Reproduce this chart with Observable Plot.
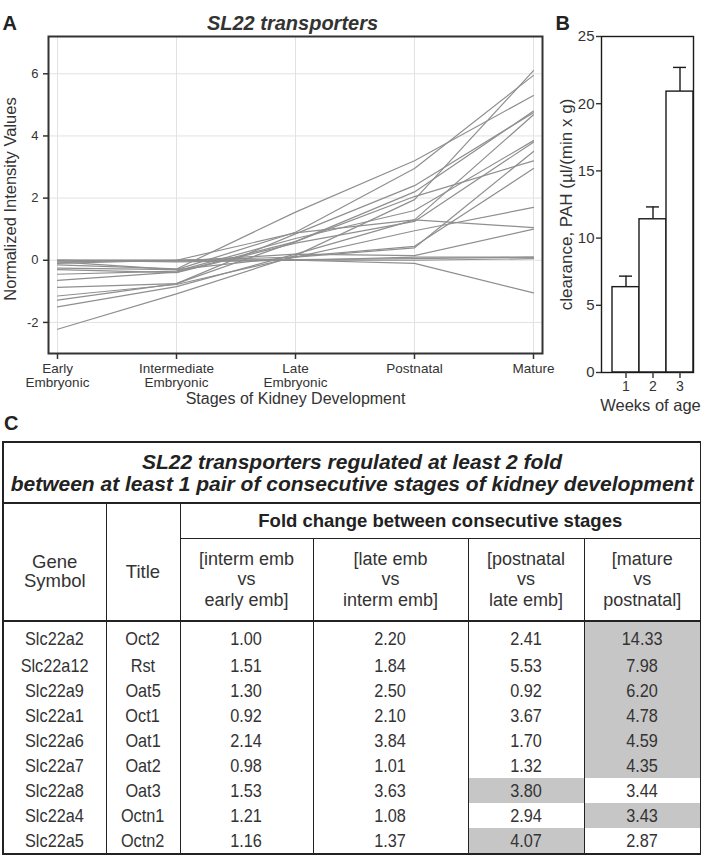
<!DOCTYPE html>
<html><head><meta charset="utf-8">
<script src="https://cdn.jsdelivr.net/npm/d3@7"></script>
<script src="https://cdn.jsdelivr.net/npm/@observablehq/plot@0.6"></script>
<style>
body{margin:0;background:#fff;}
#root{position:relative;width:701px;height:863px;overflow:hidden;background:#fff;font-family:"Liberation Sans",Arial,Helvetica,sans-serif;}
#a{position:absolute;left:0;top:0;}
#b{position:absolute;left:545px;top:0;}
#cLetter{position:absolute;left:4px;top:412px;font-size:20px;font-weight:bold;color:#222;}
table{position:absolute;left:2px;top:441px;width:698px;border-collapse:collapse;table-layout:fixed;border:2px solid #222;color:#333;}
td{padding:0;text-align:center;vertical-align:middle;border-left:1.5px solid #222;border-right:1.5px solid #222;white-space:nowrap;}
td.ttl{font-size:21px;font-weight:bold;font-style:italic;line-height:22px;color:#222;border-bottom:2px solid #222;height:59px;}
td.fc{font-size:18.5px;font-weight:bold;color:#222;border-bottom:1.5px solid #222;height:34px;}
td.hd{font-size:18.5px;line-height:19px;border-bottom:2.5px solid #222;padding-top:18px;}
td.sub{font-size:18px;line-height:20.5px;border-bottom:2.5px solid #222;height:81px;}
td.dat{font-size:18.5px;height:25px;line-height:20px;}
td.dat span{display:inline-block;transform:scaleX(0.88);}
tr.first td.dat{height:28px;padding-top:3px;}
td.hi{background:#c6c6c6;}
</style></head><body>
<div id="root"><div id="a"></div><div id="b"></div><div id="cLetter">C</div><div id="c"></div></div>
<script>
const FONT = '"Liberation Sans", Arial, Helvetica, sans-serif';

// ---------- Panel A data ----------
const stages = ["Early", "Intermediate", "Late", "Postnatal", "Mature"];
const stageLabels = ["Early\nEmbryonic", "Intermediate\nEmbryonic", "Late\nEmbryonic", "Postnatal", "Mature"];
const yTicksA = [-2, 0, 2, 4, 6];
const gene01 = [-2.22, -1.08, 0.15, 1.95, 6.1];
const gene02 = [-0.05, -0.3, 0.9, 2.95, 5.95];
const gene03 = [-0.15, -0.28, 1.55, 3.2, 5.3];
const gene04 = [-1.28, -0.75, 0.6, 2.2, 4.8];
const gene05 = [-0.87, -0.75, 0.85, 2.4, 4.75];
const gene06 = [-1.5, -0.85, 0.2, 1.3, 4.68];
const gene07 = [-0.45, -0.35, 0.7, 1.6, 3.85];
const gene08 = [-0.3, -0.4, 0.55, 1.25, 3.8];
const gene09 = [-1.15, -0.78, 0.1, 0.4, 3.5];
const gene10 = [-0.65, -0.38, 0.6, 2.05, 3.2];
const gene11 = [-0.25, -0.3, 0.12, 0.45, 2.95];
const gene12 = [0, 0, 0.1, 0.95, 1.7];
const gene13 = [-0.05, 0, 0.88, 1.3, 1.05];
const gene14 = [0, -0.03, 0.2, 0.15, 1.0];
const gene15 = [0, 0, 0, 0.1, 0.1];
const gene16 = [0, 0, 0.02, 0.05, 0.1];
const gene17 = [0, -0.05, 0, -0.1, -1.05];
const gene18 = [-0.1, 0, 0, 0, 0.05];
const profiles = [gene01, gene02, gene03, gene04, gene05, gene06, gene07, gene08, gene09,
  gene10, gene11, gene12, gene13, gene14, gene15, gene16, gene17, gene18];

// ---------- Panel B data ----------
const weeks = [1, 2, 3];
const clearance = [6.35, 11.4, 20.9];
const clearanceErr = [0.82, 0.92, 1.8];
const yTicksB = [0, 5, 10, 15, 20, 25];

// ---------- Panel C data ----------
const geneSymbols = ["Slc22a2", "Slc22a12", "Slc22a9", "Slc22a1", "Slc22a6", "Slc22a7", "Slc22a8", "Slc22a4", "Slc22a5"];
const geneTitles = ["Oct2", "Rst", "Oat5", "Oct1", "Oat1", "Oat2", "Oat3", "Octn1", "Octn2"];
const foldIntermVsEarly = ["1.00", "1.51", "1.30", "0.92", "2.14", "0.98", "1.53", "1.21", "1.16"];
const foldLateVsInterm = ["2.20", "1.84", "2.50", "2.10", "3.84", "1.01", "3.63", "1.08", "1.37"];
const foldPostVsLate = ["2.41", "5.53", "0.92", "3.67", "1.70", "1.32", "3.80", "2.94", "4.07"];
const foldMatureVsPost = ["14.33", "7.98", "6.20", "4.78", "4.59", "4.35", "3.44", "3.43", "2.87"];
const comparisonHeaders = ["[interm emb\nvs\nearly emb]", "[late emb\nvs\ninterm emb]", "[postnatal\nvs\nlate emb]", "[mature\nvs\npostnatal]"];
const tableTitle = "SL22 transporters regulated at least 2 fold\nbetween at least 1 pair of consecutive stages of kidney development";

// ---------- Panel A ----------
const dataA = profiles.flatMap((p, i) => p.map((v, j) => ({gene: i, stage: stages[j], value: v})));
const chartA = Plot.plot({
  width: 550, height: 420,
  marginLeft: 48, marginRight: 8, marginTop: 36, marginBottom: 67,
  style: {fontFamily: FONT, fontSize: "13px", color: "#333", background: "transparent", overflow: "visible"},
  x: {type: "point", domain: stages, range: [57, 533], padding: 0},
  y: {domain: [-3, 7.2]},
  marks: [
    Plot.gridX(stages, {stroke: "#e2e2e2", strokeOpacity: 1}),
    Plot.gridY(yTicksA, {stroke: "#e2e2e2", strokeOpacity: 1}),
    Plot.lineY(dataA, {x: "stage", y: "value", z: "gene", stroke: "#8f8f8f", strokeWidth: 1.2}),
    Plot.frame({stroke: "#333", strokeWidth: 2}),
    Plot.axisY(yTicksA, {tickSize: 5, tickPadding: 5, tickFormat: d => String(d), label: null, strokeWidth: 1.5, fontSize: 13}),
    Plot.axisX(stages, {tickSize: 6, tickPadding: 3, tickFormat: d => stageLabels[stages.indexOf(d)], label: null, lineHeight: 1.08, strokeWidth: 1.5, fontSize: 13.5}),
    Plot.text(["A"], {text: d => d, frameAnchor: "top-left", dx: -46, dy: -21, fontSize: 20, fontWeight: "bold", textAnchor: "start", fill: "#222"}),
    Plot.text(["SL22 transporters"], {text: d => d, frameAnchor: "top", dx: -3, dy: -21, fontSize: 20, fontWeight: "bold", fontStyle: "italic", fill: "#333"}),
    Plot.text(["Normalized Intensity Values"], {text: d => d, frameAnchor: "left", dx: -38, dy: 4, rotate: -90, textAnchor: "middle", fontSize: 16.5, fill: "#333"}),
    Plot.text(["Stages of Kidney Development"], {text: d => d, frameAnchor: "bottom", dy: 50, fontSize: 16, fill: "#333"})
  ]
});
document.getElementById("a").append(chartA);

// ---------- Panel B ----------
const dataB = weeks.map((w, i) => ({week: w, value: clearance[i], err: clearanceErr[i]}));
const chartB = Plot.plot({
  width: 156, height: 420,
  marginLeft: 56, marginRight: 8, marginTop: 36, marginBottom: 48,
  style: {fontFamily: FONT, fontSize: "14px", color: "#333", background: "transparent", overflow: "visible"},
  x: {type: "band", domain: weeks, range: [65.7, 148.3], padding: 0},
  y: {domain: [0, 25]},
  marks: [
    Plot.ruleX(dataB, {x: "week", y1: "value", y2: d => d.value + d.err, stroke: "#1a1a1a", strokeWidth: 1.4}),
    Plot.tickY(dataB, {x: "week", y: d => d.value + d.err, insetLeft: 7, insetRight: 7, stroke: "#1a1a1a", strokeWidth: 1.4}),
    Plot.barY(dataB, {x: "week", y: "value", fill: "white", stroke: "#1a1a1a", strokeWidth: 1.4}),
    Plot.frame({stroke: "#1a1a1a", strokeWidth: 1.4}),
    Plot.axisY(yTicksB, {tickSize: 5, tickPadding: 2, label: null, fontSize: 15, strokeWidth: 1.4}),
    Plot.axisX(weeks, {tickSize: 6, tickPadding: 3, label: null, fontSize: 14, strokeWidth: 1.4}),
    Plot.text(["B"], {text: d => d, frameAnchor: "top-left", dx: -46, dy: -21, fontSize: 20, fontWeight: "bold", textAnchor: "start", fill: "#222"}),
    Plot.text(["clearance, PAH (µl/(min x g)"], {text: d => d, frameAnchor: "left", dx: -35, rotate: -90, textAnchor: "middle", fontSize: 17, fill: "#333"}),
    Plot.text(["Weeks of age"], {text: d => d, frameAnchor: "bottom", dx: 3, dy: 38, fontSize: 16.5, fill: "#333"})
  ]
});
document.getElementById("b").append(chartB);

// ---------- Panel C table ----------
const br = s => s.replace(/\n/g, "<br>");
const foldCols = [foldIntermVsEarly, foldLateVsInterm, foldPostVsLate, foldMatureVsPost];
let html = `<colgroup><col style="width:103px"><col style="width:74px"><col style="width:133px"><col style="width:155px"><col style="width:116px"><col style="width:117px"></colgroup>`;
html += `<tr><td colspan="6" class="ttl">${br(tableTitle)}</td></tr>`;
html += `<tr><td rowspan="2" class="hd">Gene<br>Symbol</td><td rowspan="2" class="hd">Title</td><td colspan="4" class="fc">Fold change between consecutive stages</td></tr>`;
html += `<tr>${comparisonHeaders.map(h => `<td class="sub">${br(h)}</td>`).join("")}</tr>`;
geneSymbols.forEach((g, i) => {
  const vals = foldCols.map(c => c[i]);
  const mx = Math.max(...vals.map(Number));
  html += `<tr class="${i === 0 ? "first" : ""}"><td class="dat"><span>${g}</span></td><td class="dat"><span>${geneTitles[i]}</span></td>` +
    vals.map(v => `<td class="dat${Number(v) === mx ? " hi" : ""}"><span>${v}</span></td>`).join("") + `</tr>`;
});
const table = document.createElement("table");
table.innerHTML = html;
document.getElementById("c").append(table);
</script>
</body></html>
